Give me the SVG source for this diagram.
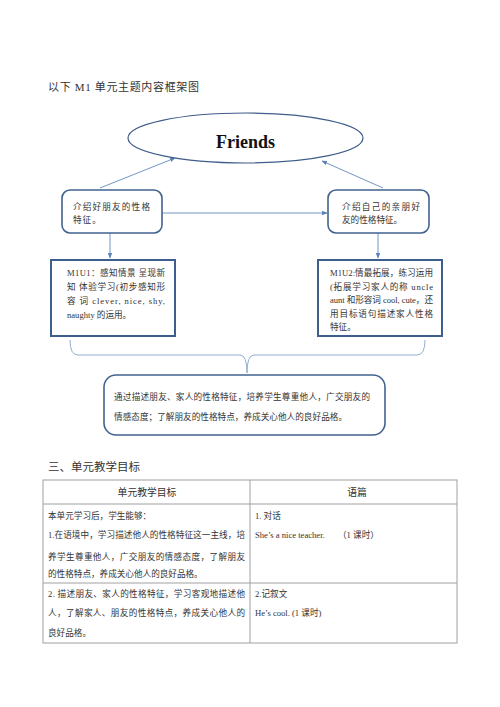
<svg xmlns="http://www.w3.org/2000/svg" width="500" height="707" viewBox="0 0 500 707">
<style>
text{font-family:"Liberation Serif","Noto Sans CJK SC",serif;fill:#333}
.s{font-size:8.6px}
.bx{fill:#fff;stroke:#41638F;stroke-width:1.6}
.sq{fill:#fff;stroke:#3D5F8E;stroke-width:2}
.ar{stroke:#7196C4;stroke-width:1;fill:none;marker-end:url(#ah)}
.tb{stroke:#A0A0A0;stroke-width:1;fill:none}
</style>
<defs>
<marker id="ah" viewBox="0 0 10 10" refX="9" refY="5" markerWidth="5.5" markerHeight="5.5" orient="auto">
<path d="M0,1 L10,5 L0,9 z" fill="#5A82B8"/>
</marker>
</defs>
<rect width="500" height="707" fill="#fff"/>
<text x="48" y="91" style="font-size:11px" textLength="151" lengthAdjust="spacing">以下 M1 单元主题内容框架图</text>

<g id="connectors">
<line class="ar" x1="100" y1="188" x2="175" y2="158"/>
<line class="ar" x1="383" y1="188" x2="322" y2="161"/>
<line class="ar" x1="162" y1="213" x2="327" y2="213"/>
<line class="ar" x1="110" y1="233" x2="110" y2="258"/>
<line class="ar" x1="378" y1="233" x2="378" y2="258"/>
<path d="M70,340 Q70,355 78,355 L240,355 Q247,355 247,373 Q247,355 254,355 L417,355 Q425,355 425,340" fill="none" stroke="#8FAED3" stroke-width="1"/>
</g>

<g id="friends">
<ellipse cx="245.5" cy="138" rx="117.5" ry="25" fill="#fff" stroke="#3F5C8A" stroke-width="1.2"/>
<text x="245.5" y="148" text-anchor="middle" style="font-size:18px;font-weight:bold;fill:#111">Friends</text>
</g>

<g id="left-box">
<rect class="bx" x="62" y="190" width="100" height="43" rx="8"/>
<text class="s" x="73" y="210" textLength="77" lengthAdjust="spacing">介绍好朋友的性格</text>
<text class="s" x="73" y="223" style="letter-spacing:1px">特征。</text>
</g>

<g id="right-box">
<rect class="bx" x="328" y="190" width="101" height="43" rx="8"/>
<text class="s" x="342" y="210" textLength="78" lengthAdjust="spacing">介绍自己的亲朋好</text>
<text class="s" x="342" y="223">友的性格特征。</text>
</g>

<g id="m1u1">
<rect class="sq" x="51" y="260" width="124" height="76"/>
<text class="s" x="67" y="276" textLength="98" lengthAdjust="spacing">M1U1：感知情景 呈现新</text>
<text class="s" x="67" y="290" textLength="98" lengthAdjust="spacing">知 体验学习(初步感知形</text>
<text class="s" x="67" y="304" textLength="98" lengthAdjust="spacing">容 词 clever, nice, shy,</text>
<text class="s" x="67" y="318">naughty 的运用。</text>
</g>

<g id="m1u2">
<rect class="sq" x="318" y="260" width="124" height="76"/>
<text class="s" x="330" y="276" textLength="103" lengthAdjust="spacing">M1U2:情最拓展，练习运用</text>
<text class="s" x="330" y="290" textLength="103" lengthAdjust="spacing">(拓展学习家人的称 uncle</text>
<text class="s" x="330" y="303" textLength="103" lengthAdjust="spacing">aunt 和形容词 cool, cute，还</text>
<text class="s" x="330" y="317" textLength="103" lengthAdjust="spacing">用目标语句描述家人性格</text>
<text class="s" x="330" y="330">特征。</text>
</g>

<g id="summary">
<rect class="bx" x="104" y="375" width="281" height="60" rx="12"/>
<text class="s" x="114" y="400" textLength="256" lengthAdjust="spacing">通过描述朋友、家人的性格特征，培养学生尊重他人，广交朋友的</text>
<text class="s" x="114" y="420" textLength="233" lengthAdjust="spacing">情感态度；了解朋友的性格特点，养成关心他人的良好品格。</text>
</g>

<text x="48" y="471" style="font-size:11.5px" textLength="92" lengthAdjust="spacing">三、单元教学目标</text>

<g id="table">
<rect class="tb" x="43" y="480" width="414" height="163"/>
<line class="tb" x1="250" y1="480" x2="250" y2="643"/>
<line class="tb" x1="43" y1="504" x2="457" y2="504"/>
<line class="tb" x1="43" y1="583" x2="457" y2="583"/>
<text x="147" y="496" text-anchor="middle" style="font-size:9.8px">单元教学目标</text>
<text x="357" y="496" text-anchor="middle" style="font-size:9.8px">语篇</text>
<text class="s" x="48" y="519">本单元学习后，学生能够：</text>
<text class="s" x="48" y="538" textLength="197" lengthAdjust="spacing">1.在语境中，学习描述他人的性格特征这一主线，培</text>
<text class="s" x="48" y="560" textLength="197" lengthAdjust="spacing">养学生尊重他人，广交朋友的情感态度，了解朋友</text>
<text class="s" x="48" y="577">的性格特点，养成关心他人的良好品格。</text>
<text class="s" x="255" y="519">1. 对话</text>
<text class="s" x="255" y="538">She’s a nice teacher.</text>
<text class="s" x="338" y="538">（1 课时）</text>
<text class="s" x="48" y="597" textLength="197" lengthAdjust="spacing">2. 描述朋友、家人的性格特征，学习客观地描述他</text>
<text class="s" x="48" y="616" textLength="197" lengthAdjust="spacing">人，了解家人、朋友的性格特点，养成关心他人的</text>
<text class="s" x="48" y="636">良好品格。</text>
<text class="s" x="255" y="597">2.记叙文</text>
<text class="s" x="255" y="616">He’s cool. (1 课时)</text>
</g>
</svg>
